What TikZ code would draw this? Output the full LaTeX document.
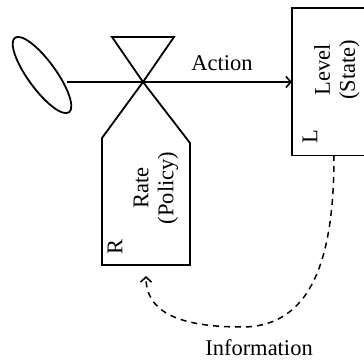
\documentclass[tikz,border=0pt]{standalone}
\usepackage{fontspec}
\setmainfont{Liberation Serif}
\usetikzlibrary{arrows.meta,shapes.geometric}
\begin{document}
\begin{tikzpicture}[x=1pt,y=1pt,
  line/.style={line width=1.8pt},
  lbl/.style={font=\fontsize{22.5}{25}\selectfont, inner sep=0pt},
  rlbl/.style={lbl, rotate=90, align=center},
  tip/.style={-{Straight Barb[length=5pt,width=11pt,line width=1.6pt]}}
]
\useasboundingbox (0,0) rectangle (364,360);
% source cloud
\node[draw, line, ellipse, rotate=-54, minimum width=92pt, minimum height=28pt, inner sep=0pt] (cloud) at (42,285) {};
\coordinate (src) at (67,278);
% level box (open to the right edge)
\node[inner sep=0pt, minimum width=72pt, minimum height=147pt, anchor=north west] (level) at (292,352) {};
\draw[line] (level.north east) -- (level.north west) -- (level.south west) -- (level.south east);
\node[rlbl] (leveltxt) at (337,290) {Level\\(State)};
\node[rlbl] (ltxt) at (310,223) {L};
% valve
\coordinate (cross) at (143,278);
\coordinate (tl) at (112,323);
\coordinate (tr) at (174,323);
\draw[line, line join=miter] (tl) -- (tr) -- (cross) -- cycle;
% rate box
\coordinate (ls) at (102,222);
\coordinate (rs) at (190,217);
\draw[line] (cross) -- (ls) -- (102,95) -- (190,95) -- (rs) -- (cross);
\node[inner sep=0pt, minimum width=88pt, minimum height=122pt] (rate) at (146,156) {};
\node[rlbl] (ratetxt) at (156,172) {Rate\\(Policy)};
\node[rlbl] (rtxt) at (115,113) {R};
% action flow
\draw[line, tip] (src) -- (level.west |- src);
\node[lbl] (action) at (222,297) {Action};
% information link
\coordinate (lvout) at (334,205);
\coordinate (rtin) at (146,84);
\draw[line width=1.5pt, dash pattern=on 6pt off 5pt, tip]
  (lvout) .. controls (334,120) and (320,33) .. (242,33)
  .. controls (175,33) and (146,50) .. (rtin);
\node[lbl] (info) at (259,12) {Information};
\end{tikzpicture}
\end{document}
